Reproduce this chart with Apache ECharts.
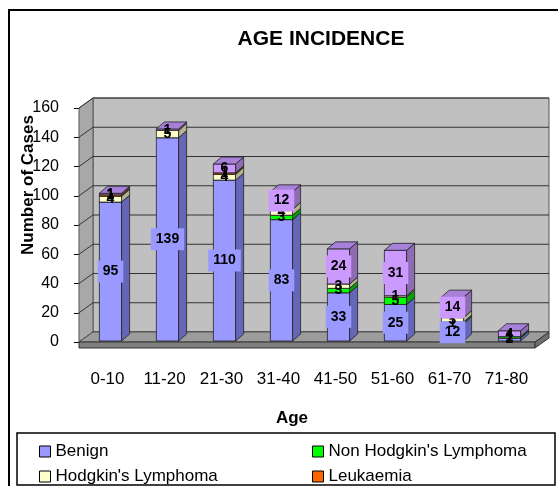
<!DOCTYPE html>
<html>
<head>
<meta charset="utf-8">
<script src="https://cdn.jsdelivr.net/npm/echarts@6/dist/echarts.min.js"></script>
<style>
html, body { margin: 0; padding: 0; background: #fff; }
#main { width: 558px; height: 486px; }
</style>
</head>
<body>
<div id="main"></div>
<script>
var ageGroups = ['0-10', '11-20', '21-30', '31-40', '41-50', '51-60', '61-70', '71-80'];
var benign = [95, 139, 110, 83, 33, 25, 12, 2];
var nonHodgkin = [0, 0, 0, 3, 3, 5, 1, 1];
var hodgkin = [4, 5, 4, 4, 3, 1, 3, 0];
var leukaemia = [1, 0, 1, 0, 0, 0, 0, 0];
var others = [1, 1, 6, 12, 24, 31, 14, 4];
var yTicks = [0, 20, 40, 60, 80, 100, 120, 140, 160];

var FONT = 'Liberation Sans';
// depth of the floor / walls and of the bars (pseudo 3d)
var DX = 14, DY = -10;
var BDX = 8, BDY = -7, SX = 3, SY = -1;

var myChart = echarts.init(document.getElementById('main'));

function wallsItem(params, api) {
  var cs = params.coordSys;
  var yb = cs.y + cs.height;
  var kids = [];
  kids.push({ type: 'rect', shape: { x: cs.x + DX, y: cs.y + DY, width: cs.width, height: cs.height },
    style: { fill: '#C0C0C0', stroke: '#555', lineWidth: 1 } });
  kids.push({ type: 'polygon', shape: { points: [[cs.x, yb], [cs.x, cs.y], [cs.x + DX, cs.y + DY], [cs.x + DX, yb + DY]] },
    style: { fill: '#A8A8A8', stroke: '#555', lineWidth: 1 } });
  yTicks.forEach(function (v) {
    var y = api.coord([0, v])[1];
    kids.push({ type: 'line', shape: { x1: cs.x + DX, y1: y + DY, x2: cs.x + cs.width + DX, y2: y + DY },
      style: { stroke: '#333', lineWidth: 1 } });
    kids.push({ type: 'line', shape: { x1: cs.x, y1: y, x2: cs.x + DX, y2: y + DY },
      style: { stroke: '#333', lineWidth: 1 } });
  });
  kids.push({ type: 'polygon', shape: { points: [[cs.x, yb], [cs.x + cs.width, yb], [cs.x + cs.width + DX, yb + DY], [cs.x + DX, yb + DY]] },
    style: { fill: '#9C9C9C', stroke: '#555', lineWidth: 1 } });
  kids.push({ type: 'rect', shape: { x: cs.x, y: yb, width: cs.width, height: 6 },
    style: { fill: '#7F7F7F', stroke: '#333', lineWidth: 1 } });
  kids.push({ type: 'polygon', shape: { points: [[cs.x + cs.width, yb], [cs.x + cs.width + DX, yb + DY], [cs.x + cs.width + DX, yb + DY + 6], [cs.x + cs.width, yb + 6]] },
    style: { fill: '#6E6E6E', stroke: '#333', lineWidth: 1 } });
  return { type: 'group', children: kids, silent: true };
}

function barSeries(name, values, bases, col) {
  return {
    type: 'custom',
    name: name,
    z: 3,
    itemStyle: { color: col.front, borderColor: '#000' },
    data: values.map(function (v, i) { return [i, bases[i], v]; }),
    encode: { x: 0, y: 2 },
    renderItem: function (params, api) {
      var v = api.value(2);
      if (!v) return null;
      var cat = api.value(0), base = api.value(1);
      var pb = api.coord([cat, base]);
      var pt = api.coord([cat, base + v]);
      var w = api.size([1, 0])[0] * 0.39;
      var x0 = pb[0] - w / 2 + SX, x1 = x0 + w;
      var yb = pb[1] + SY, yt = pt[1] + SY;
      var line = { stroke: '#222', lineWidth: 0.8 };
      return {
        type: 'group',
        children: [
          { type: 'rect', shape: { x: x0, y: yt, width: w, height: yb - yt },
            style: { fill: col.front, stroke: line.stroke, lineWidth: line.lineWidth } },
          { type: 'polygon', shape: { points: [[x1, yb], [x1 + BDX, yb + BDY], [x1 + BDX, yt + BDY], [x1, yt]] },
            style: { fill: col.side, stroke: line.stroke, lineWidth: line.lineWidth } },
          { type: 'polygon', shape: { points: [[x0, yt], [x1, yt], [x1 + BDX, yt + BDY], [x0 + BDX, yt + BDY]] },
            style: { fill: col.top, stroke: line.stroke, lineWidth: line.lineWidth } },
          { type: 'text', z2: 100, x: x0 + w / 2, y: (yb + yt) / 2,
            style: { text: String(v), fill: '#000', font: 'bold 14px "' + FONT + '"',
              align: 'center', verticalAlign: 'middle',
              backgroundColor: v >= 10 ? col.front : 'transparent', padding: [4, 5] } }
        ]
      };
    }
  };
}

// stacking bases from the series values
var stackList = [benign, nonHodgkin, hodgkin, leukaemia, others];
var bases = [];
var acc = ageGroups.map(function () { return 0; });
stackList.forEach(function (arr) {
  bases.push(acc.slice());
  acc = acc.map(function (a, i) { return a + arr[i]; });
});

var legendBase = {
  orient: 'vertical', top: 443, height: 80, padding: 0,
  icon: 'rect', itemWidth: 11, itemHeight: 11, itemGap: 8,
  itemStyle: { borderColor: '#000', borderWidth: 1 },
  textStyle: { fontSize: 17, fontFamily: FONT, color: '#000' }
};

var option = {
  animation: false,
  title: {
    text: 'AGE INCIDENCE', left: 316, top: 24, textAlign: 'center',
    textStyle: { fontSize: 21, fontWeight: 'bold', fontFamily: FONT, color: '#000' }
  },
  grid: { left: 79, right: 23, top: 108, bottom: 144 },
  legend: [
    Object.assign({}, legendBase, { data: ['Benign', "Hodgkin's Lymphoma"], left: 39 }),
    Object.assign({}, legendBase, { data: ["Non Hodgkin's Lymphoma", 'Leukaemia'], left: 312 })
  ],
  xAxis: {
    type: 'category', data: ageGroups, offset: 6,
    name: 'Age', nameLocation: 'middle', nameGap: 62,
    nameTextStyle: { fontSize: 17, fontWeight: 'bold', fontFamily: FONT, color: '#000', padding: [0, 30, 0, 0] },
    axisLine: { lineStyle: { color: '#000', width: 1 } },
    axisTick: { length: 5, lineStyle: { color: '#000' } },
    axisLabel: { margin: 23, fontSize: 17, fontFamily: FONT, color: '#000', interval: 0 }
  },
  yAxis: {
    type: 'value', min: 0, max: 160, interval: 20,
    axisLine: { show: true, lineStyle: { color: '#000', width: 1 } },
    axisTick: { show: true, length: 5, lineStyle: { color: '#000' } },
    axisLabel: { margin: 20, fontSize: 16, fontFamily: FONT, color: '#000' },
    splitLine: { show: false }
  },
  graphic: [
    { type: 'rect', silent: true, shape: { x: 9, y: 10, width: 700, height: 700 },
      style: { fill: 'none', stroke: '#000', lineWidth: 2 } },
    { type: 'rect', silent: true, shape: { x: 17, y: 433, width: 538, height: 52 },
      style: { fill: 'none', stroke: '#000', lineWidth: 1.5 } },
    { type: 'text', silent: true, x: 28, y: 185, rotation: Math.PI / 2,
      style: { text: 'Number of Cases', font: 'bold 17px "' + FONT + '"', fill: '#000',
        align: 'center', verticalAlign: 'middle' } }
  ],
  series: [
    { type: 'custom', name: 'walls', z: 1, silent: true, data: [[0, 0]], renderItem: wallsItem },
    barSeries('Benign', benign, bases[0], { front: '#9999FF', side: '#6666B8', top: '#7F7FE0' }),
    barSeries("Non Hodgkin's Lymphoma", nonHodgkin, bases[1], { front: '#00FF00', side: '#00A800', top: '#00CC00' }),
    barSeries("Hodgkin's Lymphoma", hodgkin, bases[2], { front: '#FFFFCC', side: '#B3B38F', top: '#E6E6B5' }),
    barSeries('Leukaemia', leukaemia, bases[3], { front: '#FF6600', side: '#B34700', top: '#E65C00' }),
    barSeries('Others', others, bases[4], { front: '#CC99FF', side: '#8F6BB3', top: '#A680D9' })
  ]
};

myChart.setOption(option);
window.onresize = function () {
  myChart.resize();
};
</script>
</body>
</html>
